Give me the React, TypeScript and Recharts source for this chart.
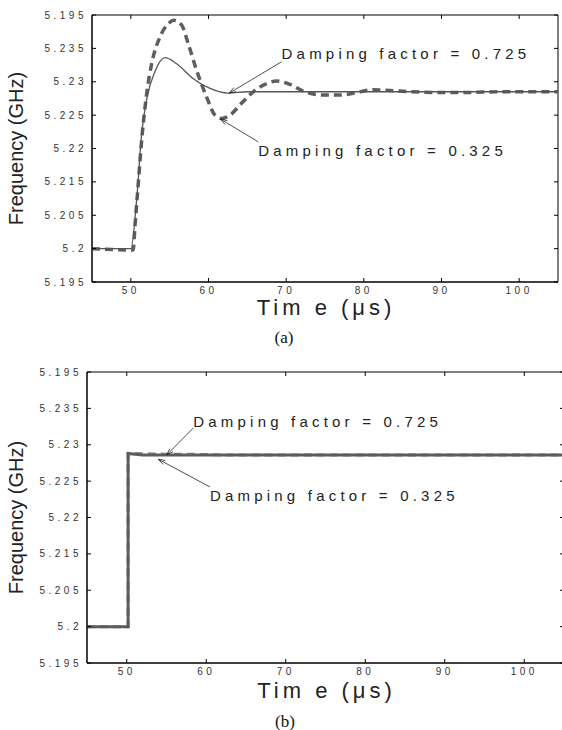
import React from "react"
import { LineChart, Line, XAxis, YAxis, ReferenceLine, ReferenceArea, Label } from "recharts"

// axis ticks (the figure prints these labels, in this order, bottom to top)
const xTicks = [50, 60, 70, 80, 90, 100]
const yTicks = [5.195, 5.2, 5.205, 5.21, 5.215, 5.22, 5.225, 5.23, 5.235]
const yTickLabels = ["5.195", "5.2", "5.205", "5.215", "5.22", "5.225", "5.23", "5.235", "5.195"]

// (a) damping factor 0.725
const timeA725 = [45, 50.0, 50.75, 51.4, 52.1, 53.1, 54.4, 55.9, 58.0, 60.2, 62.5, 65, 75, 105]
const freqA725 = [5.2, 5.2, 5.2073, 5.2173, 5.2227, 5.2265, 5.2286, 5.2277, 5.2255, 5.224, 5.2233, 5.2235, 5.2235, 5.2235]

// (a) damping factor 0.325
const timeA325 = [
  45, 50.0, 50.3, 50.53, 50.96, 51.4, 52.04, 52.68, 53.75, 54.82, 55.55, 56.54, 57.39, 58.47, 59.76,
  60.83, 61.69, 62.76, 64.27, 65.76, 67.27, 68.77, 70.48, 72.2, 74.77, 76.92, 79.49, 81.2, 84.6, 88.9,
  93.2, 97.5, 101.8, 105,
]
const freqA325 = [
  5.2, 5.1998, 5.1998, 5.2033, 5.2098, 5.2163, 5.2232, 5.2277, 5.2317, 5.2337, 5.2342, 5.2335, 5.2307,
  5.2267, 5.2227, 5.22, 5.2195, 5.22, 5.2218, 5.2235, 5.2246, 5.2251, 5.2246, 5.2236, 5.223, 5.223,
  5.2235, 5.2238, 5.2236, 5.2234, 5.2234, 5.2235, 5.2235, 5.2235,
]

// (b) both damping factors, near-ideal step
const timeB725 = [45, 50.17, 50.17, 52, 105]
const freqB725 = [5.2, 5.2, 5.2238, 5.2236, 5.2236]
const timeB325 = [45, 50.17, 50.17, 55, 58, 62, 105]
const freqB325 = [5.2, 5.2, 5.2238, 5.2237, 5.2237, 5.2236, 5.2236]

const zip = (ts: number[], fs: number[]) => ts.map((t, i) => ({ t, f: fs[i] }))

type Note = { text: string; from: [number, number]; to: [number, number]; dy: number }

const notesA: Note[] = [
  { text: "Damping factor = 0.725", from: [69.41, 5.228], to: [62.67, 5.2233], dy: -8 },
  { text: "Damping factor = 0.325", from: [66.4, 5.216], to: [61.56, 5.2194], dy: 9 },
]
const notesB: Note[] = [
  { text: "Damping factor = 0.725", from: [58.37, 5.2273], to: [55.03, 5.2236], dy: -7 },
  { text: "Damping factor = 0.325", from: [60.47, 5.2192], to: [53.97, 5.223], dy: 9 },
]

const ink = "#222"

const arrowShape = (text: string, dy: number) => (p: any) => {
  const { x1, y1, x2, y2 } = p
  const ang = Math.atan2(y2 - y1, x2 - x1)
  const len = 7
  const spread = 0.33
  const a1x = x2 - len * Math.cos(ang - spread)
  const a1y = y2 - len * Math.sin(ang - spread)
  const a2x = x2 - len * Math.cos(ang + spread)
  const a2y = y2 - len * Math.sin(ang + spread)
  return (
    <g>
      <line x1={x1} y1={y1} x2={x2} y2={y2} stroke={ink} strokeWidth={0.8} />
      <path d={`M${a1x},${a1y}L${x2},${y2}L${a2x},${a2y}`} fill="none" stroke={ink} strokeWidth={0.8} />
      <text
        x={x1}
        y={y1 + dy}
        dominantBaseline="central"
        fontSize={15}
        fill={ink}
        style={{ letterSpacing: "4.2px" }}
      >
        {text}
      </text>
    </g>
  )
}

type PanelProps = {
  top: number
  width: number
  height: number
  margin: { top: number; right: number; bottom: number; left: number }
  yAxisWidth: number
  xLabelDy: number
  thick: boolean
  solid: { t: number; f: number }[]
  dashed: { t: number; f: number }[]
  notes: Note[]
}

function Panel(props: PanelProps) {
  const { top, width, height, margin, yAxisWidth, xLabelDy, thick, solid, dashed, notes } = props
  const xAxisHeight = 40
  const plotTop = margin.top
  const plotBottom = height - margin.bottom - xAxisHeight
  const plotLeft = margin.left + yAxisWidth
  const plotRight = width - margin.right

  const renderYLabel = (p: any) => {
    const vb = p.viewBox
    const x = vb.x + 16
    const y = vb.y + vb.height / 2
    return (
      <text
        x={x}
        y={y}
        transform={`rotate(-90, ${x}, ${y})`}
        textAnchor="middle"
        dominantBaseline="central"
        fontSize={20}
        fill={ink}
      >
        Frequency (GHz)
      </text>
    )
  }

  const renderXLabel = (p: any) => {
    const vb = p.viewBox
    return (
      <text
        x={vb.x + vb.width / 2 + 1}
        y={vb.y + xLabelDy}
        textAnchor="middle"
        dominantBaseline="central"
        fontSize={22}
        style={{ letterSpacing: "4px" }}
        fill={ink}
      >
        Tim e (μs)
      </text>
    )
  }

  // inward ticks on both opposite sides of the box, plus the label
  const xTick = (p: any) => {
    const { x, payload } = p
    return (
      <g>
        <line x1={x} y1={plotBottom} x2={x} y2={plotBottom - 4} stroke="#000" />
        <line x1={x} y1={plotTop} x2={x} y2={plotTop + 4} stroke="#000" />
        <text
          x={x}
          y={plotBottom + 8}
          textAnchor="middle"
          dominantBaseline="central"
          fontSize={10}
          fill="#333"
          style={{ letterSpacing: "3.5px" }}
        >
          {payload.value}
        </text>
      </g>
    )
  }

  const yTick = (p: any) => {
    const { y, payload, index } = p
    return (
      <g>
        <line x1={plotLeft} y1={y} x2={plotLeft + 4} y2={y} stroke="#000" />
        <line x1={plotRight} y1={y} x2={plotRight - 4} y2={y} stroke="#000" />
        <text
          x={plotLeft - 5}
          y={y}
          textAnchor="end"
          dominantBaseline="central"
          fontSize={10}
          fill="#333"
          style={{ letterSpacing: "3.5px" }}
        >
          {yTickLabels[index ?? yTicks.indexOf(payload.value)] ?? ""}
        </text>
      </g>
    )
  }

  return (
    <div style={{ position: "absolute", left: 0, top }}>
      <LineChart width={width} height={height} margin={margin}>
        <XAxis
          dataKey="t"
          type="number"
          domain={[45, 105]}
          ticks={xTicks}
          interval={0}
          allowDataOverflow
          tickLine={false}
          height={xAxisHeight}
          tick={xTick}
          stroke="#000"
        >
          <Label content={renderXLabel} />
        </XAxis>
        <YAxis
          type="number"
          domain={[5.195, 5.235]}
          ticks={yTicks}
          interval={0}
          allowDataOverflow
          tickLine={false}
          width={yAxisWidth}
          tick={yTick}
          stroke="#000"
        >
          <Label content={renderYLabel} />
        </YAxis>
        <ReferenceArea
          x1={45}
          x2={105}
          y1={5.195}
          y2={5.235}
          fill="none"
          fillOpacity={0}
          stroke="#000"
          strokeWidth={1}
          ifOverflow="visible"
        />
        <Line
          data={dashed}
          dataKey="f"
          type={thick ? "linear" : "monotone"}
          stroke={thick ? "#8a8a8a" : "#5e5e5e"}
          strokeWidth={thick ? 3 : 3.5}
          strokeDasharray="8 5"
          dot={false}
          isAnimationActive={false}
        />
        <Line
          data={solid}
          dataKey="f"
          type={thick ? "linear" : "monotone"}
          stroke={thick ? "#5c5c5c" : "#555"}
          strokeWidth={thick ? 3 : 1.3}
          dot={false}
          isAnimationActive={false}
        />
        {notes.map((n) => (
          <ReferenceLine
            key={n.text}
            segment={[
              { x: n.from[0], y: n.from[1] },
              { x: n.to[0], y: n.to[1] },
            ]}
            ifOverflow="visible"
            shape={arrowShape(n.text, n.dy)}
          />
        ))}
      </LineChart>
    </div>
  )
}

const captionStyle: React.CSSProperties = {
  position: "absolute",
  left: 0,
  width: 568,
  textAlign: "center",
  fontFamily: "'Liberation Serif', 'Times New Roman', serif",
  fontSize: 17,
  lineHeight: "20px",
  color: "#111",
}

export default function App() {
  return (
    <div
      style={{
        position: "absolute",
        left: 0,
        top: 0,
        width: 562,
        height: 730,
        overflow: "hidden",
        background: "#fff",
        fontFamily: "'Liberation Sans', Arial, sans-serif",
      }}
    >
      <Panel
        top={0}
        width={562}
        height={350}
        margin={{ top: 15, right: 4, bottom: 28, left: 0 }}
        yAxisWidth={92}
        xLabelDy={25}
        thick={false}
        solid={zip(timeA725, freqA725)}
        dashed={zip(timeA325, freqA325)}
        notes={notesA}
      />
      <div style={{ ...captionStyle, top: 328 }}>(a)</div>
      <Panel
        top={357}
        width={566}
        height={373}
        margin={{ top: 15, right: 2, bottom: 27, left: 0 }}
        yAxisWidth={87}
        xLabelDy={27}
        thick={true}
        solid={zip(timeB725, freqB725)}
        dashed={zip(timeB325, freqB325)}
        notes={notesB}
      />
      <div style={{ ...captionStyle, top: 712, left: 1 }}>(b)</div>
    </div>
  )
}
